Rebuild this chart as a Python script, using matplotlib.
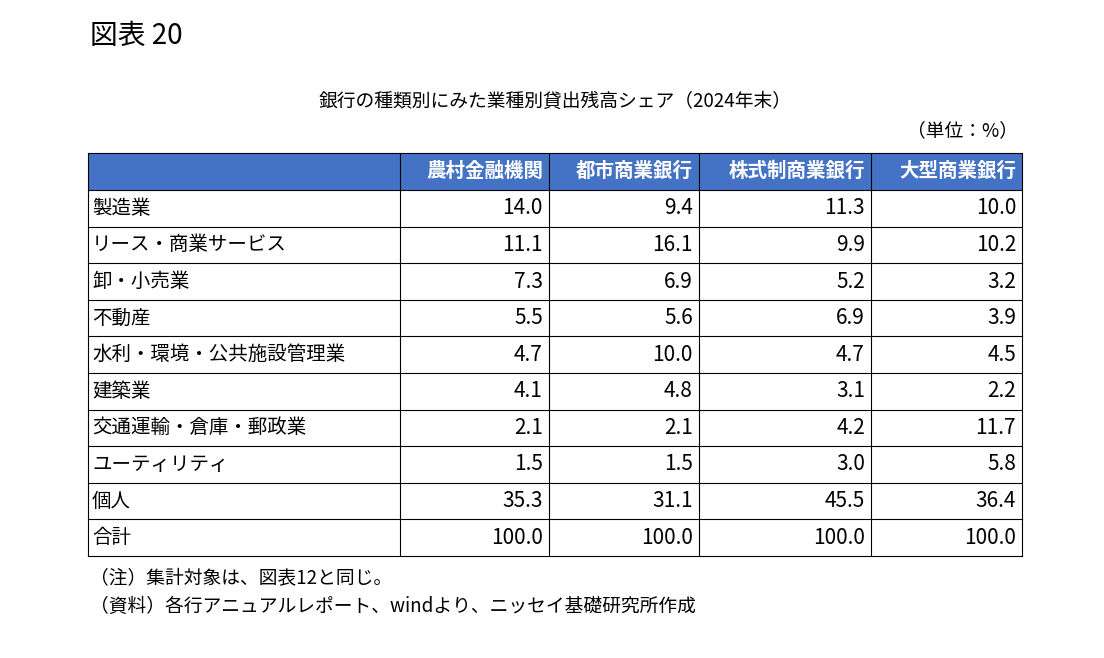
import matplotlib
matplotlib.use("Agg")
import matplotlib.pyplot as plt
from matplotlib.patches import Rectangle

FONT = "Noto Sans CJK JP"
plt.rcParams["font.family"] = FONT

columns = ["農村金融機関", "都市商業銀行", "株式制商業銀行", "大型商業銀行"]
categories = ["製造業", "リース・商業サービス", "卸・小売業", "不動産", "水利・環境・公共施設管理業",
              "建築業", "交通運輸・倉庫・郵政業", "ユーティリティ", "個人", "合計"]
rural = [14.0, 11.1, 7.3, 5.5, 4.7, 4.1, 2.1, 1.5, 35.3, 100.0]
city = [9.4, 16.1, 6.9, 5.6, 10.0, 4.8, 2.1, 1.5, 31.1, 100.0]
joint = [11.3, 9.9, 5.2, 6.9, 4.7, 3.1, 4.2, 3.0, 45.5, 100.0]
large = [10.0, 10.2, 3.2, 3.9, 4.5, 2.2, 11.7, 5.8, 36.4, 100.0]
series = [rural, city, joint, large]

fig = plt.figure(figsize=(11.04, 6.58), dpi=100)
ax = fig.add_axes([0, 0, 1, 1])
ax.set_xlim(0, 1104)
ax.set_ylim(658, 0)
ax.axis("off")

ax.text(90, 36, "図表 20", fontsize=20, va="center", ha="left")
ax.text(555, 101, "銀行の種類別にみた業種別貸出残高シェア（2024年末）", fontsize=13.5, va="center", ha="center")
ax.text(1018, 131, "（単位：%）", fontsize=13.5, va="center", ha="right")

xs = [88, 400, 549, 699, 871, 1022]
y0, yh = 153, 190
row_h = (556 - yh) / len(categories)

ax.add_patch(Rectangle((xs[0], y0), xs[-1] - xs[0], yh - y0, facecolor="#4472C4", edgecolor="none"))
for i, c in enumerate(columns):
    ax.text(xs[i + 2] - 6, (y0 + yh) / 2, c, fontsize=14, fontweight="bold", color="white",
            ha="right", va="center")

for r, cat in enumerate(categories):
    yt = yh + r * row_h
    ym = yt + row_h / 2
    ax.text(xs[0] + 4, ym, cat, fontsize=14, ha="left", va="center")
    for i, s in enumerate(series):
        ax.text(xs[i + 2] - 6, ym, f"{s[r]:.1f}", fontsize=15, ha="right", va="center")

ybot = yh + len(categories) * row_h
for r in range(len(categories) + 2):
    y = y0 if r == 0 else yh + (r - 1) * row_h
    ax.plot([xs[0], xs[-1]], [y, y], color="black", lw=0.8)
for x in xs:
    ax.plot([x, x], [y0, ybot], color="black", lw=0.8)

ax.text(90, 579, "（注）集計対象は、図表12と同じ。", fontsize=13.5, va="center", ha="left")
ax.text(90, 606, "（資料）各行アニュアルレポート、windより、ニッセイ基礎研究所作成", fontsize=13.5, va="center", ha="left")

fig.savefig("out.png", dpi=100)
